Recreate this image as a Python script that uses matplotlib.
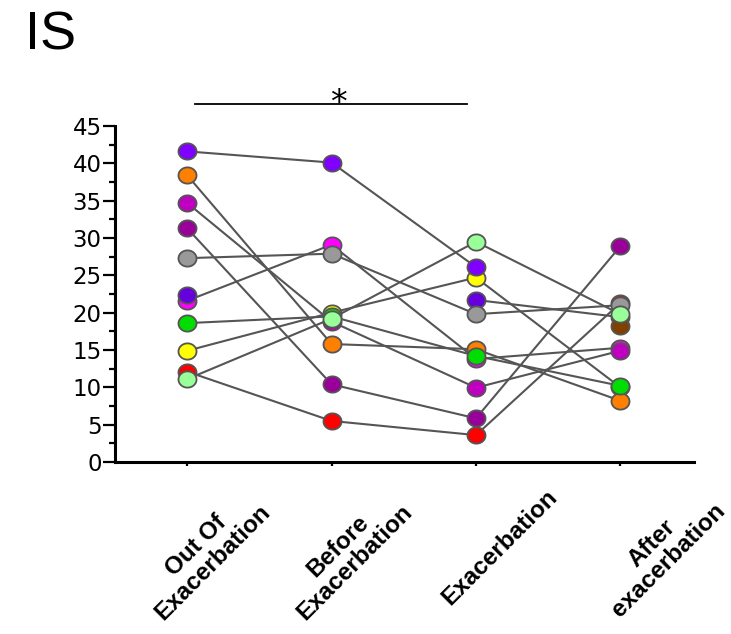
import numpy as np
import matplotlib
matplotlib.use("Agg")
import matplotlib.pyplot as plt
from matplotlib.path import Path
from matplotlib.transforms import ScaledTranslation

nan = np.nan
categories = ["Out Of\nExacerbation", "Before\nExacerbation", "Exacerbation", "After\nexacerbation"]

# one series per patient (drawn bottom to top)
pink        = [21.6, 29.1, 13.8, 15.3]
red         = [12.1, 5.5, 3.6, 21.3]
yellow      = [14.9, 20.0, 24.7, 10.0]
purple      = [41.6, 40.1, 26.1, nan]
orange      = [38.4, 15.8, 15.1, 8.2]
green       = [18.6, 19.5, 14.2, 10.2]
magenta     = [34.7, 18.8, 9.95, 14.9]
violet      = [22.4, nan, 21.7, 19.4]
gray        = [27.3, 27.9, 19.8, 21.0]
brown       = [nan, nan, nan, 18.2]
darkpurple  = [31.3, 10.4, 5.85, 28.9]
lightgreen  = [11.1, 19.2, 29.5, 19.8]

series = [pink, red, yellow, purple, orange, green, magenta, violet, gray, brown, darkpurple, lightgreen]
colors = ["#FF00FF", "#FF0000", "#FFFF00", "#8000FF", "#FF8000", "#00DD00", "#C000C0",
          "#6600DD", "#999999", "#804000", "#990099", "#99FF99"]

yticks = [0, 5, 10, 15, 20, 25, 30, 35, 40, 45]
title = "IS"
sig_text = "*"

fig = plt.figure(figsize=(7.31, 6.34), dpi=100)
ax = fig.add_axes([115/731, 1-462/634, (694-115)/731, (462-126)/634])

# elliptical marker
t = np.linspace(0, 2*np.pi, 60)
ell = Path(np.column_stack([0.5*np.cos(t), 0.45*np.sin(t)]), closed=True)

x = np.arange(len(categories))
for vals, c in zip(series, colors):
    ax.plot(x, vals, color="#555555", lw=1.5, marker=ell, ms=13, mfc=c,
            mec="#555555", mew=1.3, clip_on=False)

ax.set_xlim(-0.5, 3.51)
ax.set_ylim(0, 45)
ax.set_yticks(yticks)
ax.set_yticks(np.arange(2.5, 45, 5), minor=True)
ax.set_yticklabels([str(v) for v in yticks], fontsize=16.5, family="DejaVu Sans")
for s in ["top", "right"]:
    ax.spines[s].set_visible(False)
for s in ["left", "bottom"]:
    ax.spines[s].set_linewidth(2.2)
ax.tick_params(axis="y", which="major", length=8.5, width=1.6, pad=1)
ax.tick_params(axis="y", which="minor", length=4.5, width=1.6)
ax.tick_params(axis="x", length=3, width=1.6, pad=14)

ax.set_xticks(x)
ax.set_xticklabels(categories, rotation=45, ha="center", va="top", fontsize=17.5,
                   fontweight="bold", family="Liberation Sans", linespacing=1.0)
offs = [(17, 2), (15, 2), (24, 0), (40, 3)]
for lab, (dx, dy) in zip(ax.get_xticklabels(), offs):
    lab.set_transform(lab.get_transform() + ScaledTranslation(dx/100, dy/100, fig.dpi_scale_trans))

# significance bar
ax.plot([0.055, 1.94], [47.95, 47.95], color="black", lw=1.3, clip_on=False)
ax.text(1.045, 47.95, sig_text, ha="center", va="center", fontsize=24, family="DejaVu Sans",
        transform=ax.transData + ScaledTranslation(0, 0.0, fig.dpi_scale_trans))

fig.text(25/731, 1-50/634, title, fontsize=39, family="Liberation Sans", ha="left", va="baseline")

fig.savefig("out.png", dpi=100)
